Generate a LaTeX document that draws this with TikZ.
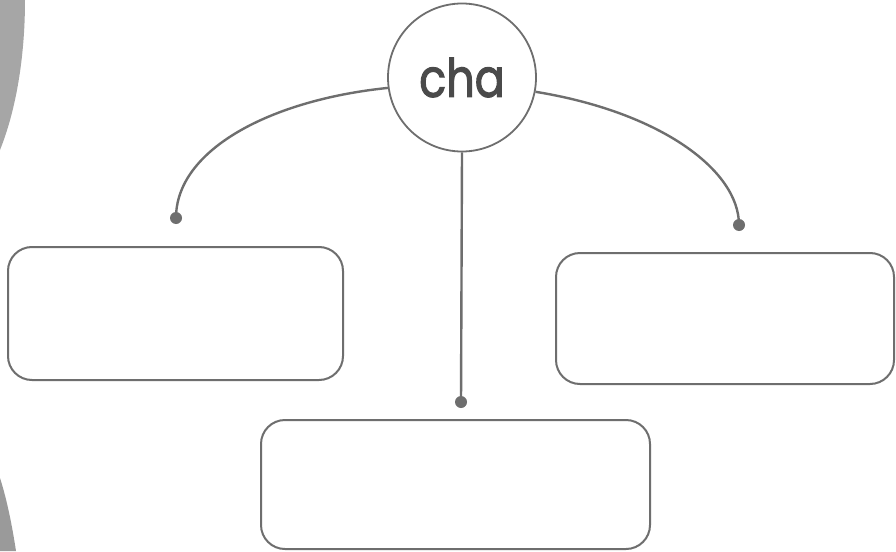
\documentclass[tikz,border=0pt]{standalone}
\usepackage{fontspec}
\newfontfamily\popfont{Poppins}[FakeBold=2.2]
\definecolor{linegray}{HTML}{6E6E6E}
\definecolor{txtgray}{HTML}{4A4A4A}
\definecolor{shadetop}{HTML}{A6A6A6}
\definecolor{shadebot}{HTML}{9A9A9A}
\begin{document}
\begin{tikzpicture}[x=1pt,y=-1pt,
  conn/.style={draw=linegray,line width=2.4pt},
  answerbox/.style={draw=linegray,line width=2pt,rounded corners=24pt,fill=white},
  enddot/.style={circle,fill=linegray,inner sep=0pt,minimum size=12pt},
  hub/.style={circle,draw=linegray,line width=1.8pt,minimum size=148pt,inner sep=0pt,
    font=\popfont\fontsize{53}{53}\selectfont,text=txtgray}]
\useasboundingbox (0,0) rectangle (896,551);
\fill[white] (0,0) rectangle (896,551);
% left-edge shading
\fill[shadetop] (0,0) -- (25,0) .. controls (25,50) and (18,105) .. (0,150) -- cycle;
\fill[shadebot] (0,478) .. controls (7,500) and (12,525) .. (16,551) -- (0,551) -- cycle;
% nodes
\node[hub] (c) at (462,77.5) {\raisebox{-2pt}{\scalebox{0.84}[1]{cha}}};
\node[enddot] (dl) at (176,218) {};
\node[enddot] (dr) at (739,225) {};
\node[enddot] (dm) at (461,402) {};
\draw[answerbox] (8,247) rectangle (343,380);
\draw[answerbox] (556,253) rectangle (894,384);
\draw[answerbox] (261,420) rectangle (650,549);
% connectors
\draw[conn] (c.188) .. controls (270,100) and (176,150) .. (dl.center);
\draw[conn] (c.349) .. controls (660,112) and (739,170) .. (dr.center);
\draw[conn] (c.south) -- (dm.center);
\end{tikzpicture}
\end{document}
